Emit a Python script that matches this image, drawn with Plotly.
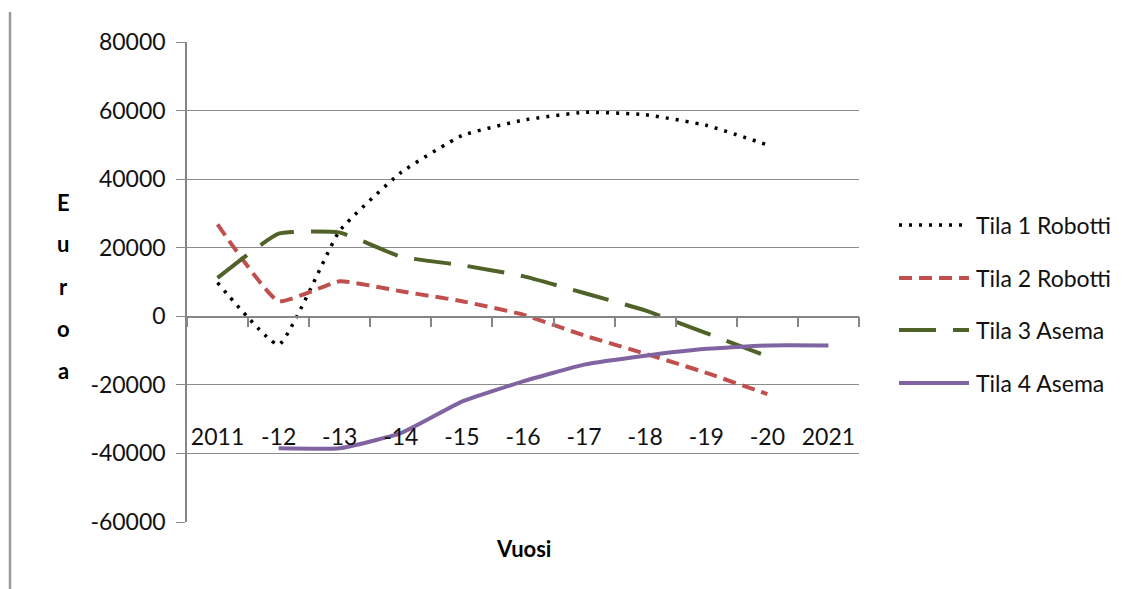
import plotly.graph_objects as go

# ---- data ----
years = ["2011", "-12", "-13", "-14", "-15", "-16", "-17", "-18", "-19", "-20", "2021"]
tila1_robotti = [9800, -8300, 25000, 41900, 52700, 57200, 59500, 58800, 55700, 50000, None]
tila2_robotti = [26800, 4400, 10200, 7300, 4400, 500, -5600, -10900, -16500, -22700, None]
tila3_asema = [11200, 24100, 24400, 17400, 14900, 11700, 6800, 1700, -4900, -11700, None]
tila4_asema = [None, -38500, -38500, -34100, -24900, -19000, -14100, -11500, -9500, -8500, -8500]
series_names = ["Tila 1 Robotti", "Tila 2 Robotti", "Tila 3 Asema", "Tila 4 Asema"]
y_ticks = [-60000, -40000, -20000, 0, 20000, 40000, 60000, 80000]

# ---- styles ----
styles = [
    dict(color="#000000", width=3.5, dash="3px,7px"),
    dict(color="#C0504D", width=4, dash="13px,7px"),
    dict(color="#4F6228", width=4, dash="37px,17px"),
    dict(color="#8064A2", width=4, dash="solid"),
]
FONT = "Lato"
W, H = 1141, 589
L, R, T, B = 187, 859, 42, 522

def px_x(px):
    return (px - L) / (R - L)

def px_y(py):
    return (B - py) / (B - T)

fig = go.Figure()
for name, vals, st in zip(series_names, [tila1_robotti, tila2_robotti, tila3_asema, tila4_asema], styles):
    fig.add_trace(go.Scatter(
        x=years, y=vals, name=name, mode="lines",
        line=dict(color=st["color"], width=st["width"], dash=st["dash"], shape="spline", smoothing=0.4),
        showlegend=False, connectgaps=False,
    ))

# invisible trace to carry the label axis
fig.add_trace(go.Scatter(x=years, y=tila4_asema, xaxis="x2", mode="lines",
                         line=dict(width=0), opacity=0, showlegend=False, hoverinfo="skip"))

fig.update_layout(
    width=W, height=H,
    margin=dict(l=L, r=W - R, t=T, b=H - B),
    paper_bgcolor="white", plot_bgcolor="white",
    font=dict(family=FONT, size=23, color="#111111"),
    xaxis=dict(
        type="category", categoryorder="array", categoryarray=years,
        range=[-0.5, len(years) - 0.5],
        anchor="free", position=px_y(316.7),
        showline=True, linecolor="#868686", linewidth=1.5,
        ticks="outside", tickson="boundaries", ticklen=10, tickcolor="#868686", tickwidth=1.5,
        showticklabels=False, showgrid=False, zeroline=False,
    ),
    xaxis2=dict(
        type="category", categoryorder="array", categoryarray=years,
        range=[-0.5, len(years) - 0.5], overlaying="x",
        anchor="free", position=px_y(421),
        showline=False, ticks="", showgrid=False, zeroline=False,
        tickfont=dict(family=FONT, size=23, color="#111111"),
    ),
    yaxis=dict(
        range=[-60000, 80000], tickvals=y_ticks, ticktext=[str(v) for v in y_ticks],
        showgrid=True, gridcolor="#8c8c8c", gridwidth=1.3,
        showline=True, linecolor="#868686", linewidth=1.5,
        ticks="outside", ticklen=9, tickcolor="#868686", tickwidth=1.3,
        zeroline=False, ticklabelstandoff=6,
        tickfont=dict(family=FONT, size=23, color="#111111"),
    ),
)

shapes = []
annotations = []
# left border line
shapes.append(dict(type="line", xref="paper", yref="paper",
                   x0=px_x(10), x1=px_x(10), y0=px_y(12), y1=px_y(589),
                   line=dict(color="#9a9a9a", width=2.5)))

# manual legend
leg_rows = [225, 278, 330, 383]
for name, st, py in zip(series_names, styles, leg_rows):
    shapes.append(dict(type="line", xref="paper", yref="paper",
                       x0=px_x(899), x1=px_x(969), y0=px_y(py), y1=px_y(py),
                       line=dict(color=st["color"], width=st["width"], dash=st["dash"])))
    annotations.append(dict(xref="paper", yref="paper", x=px_x(974), y=px_y(py),
                            text=name, showarrow=False, xanchor="left", yanchor="middle",
                            font=dict(family=FONT, size=23, color="#111111")))

# axis titles
annotations.append(dict(xref="paper", yref="paper", x=px_x(523), y=px_y(548),
                        text="<b>Vuosi</b>", showarrow=False, xanchor="center", yanchor="middle",
                        font=dict(family=FONT, size=22, color="#000000")))
for ch, py in zip("Euroa", [202, 244, 286, 328, 370]):
    annotations.append(dict(xref="paper", yref="paper", x=px_x(63), y=px_y(py),
                            text="<b>" + ch + "</b>", showarrow=False, xanchor="center", yanchor="middle",
                            font=dict(family=FONT, size=22, color="#000000")))

fig.update_layout(shapes=shapes, annotations=annotations)
fig.write_html("out.html", config={"displayModeBar": False},
               post_script="document.body.style.margin='0';document.body.style.overflow='hidden';")
